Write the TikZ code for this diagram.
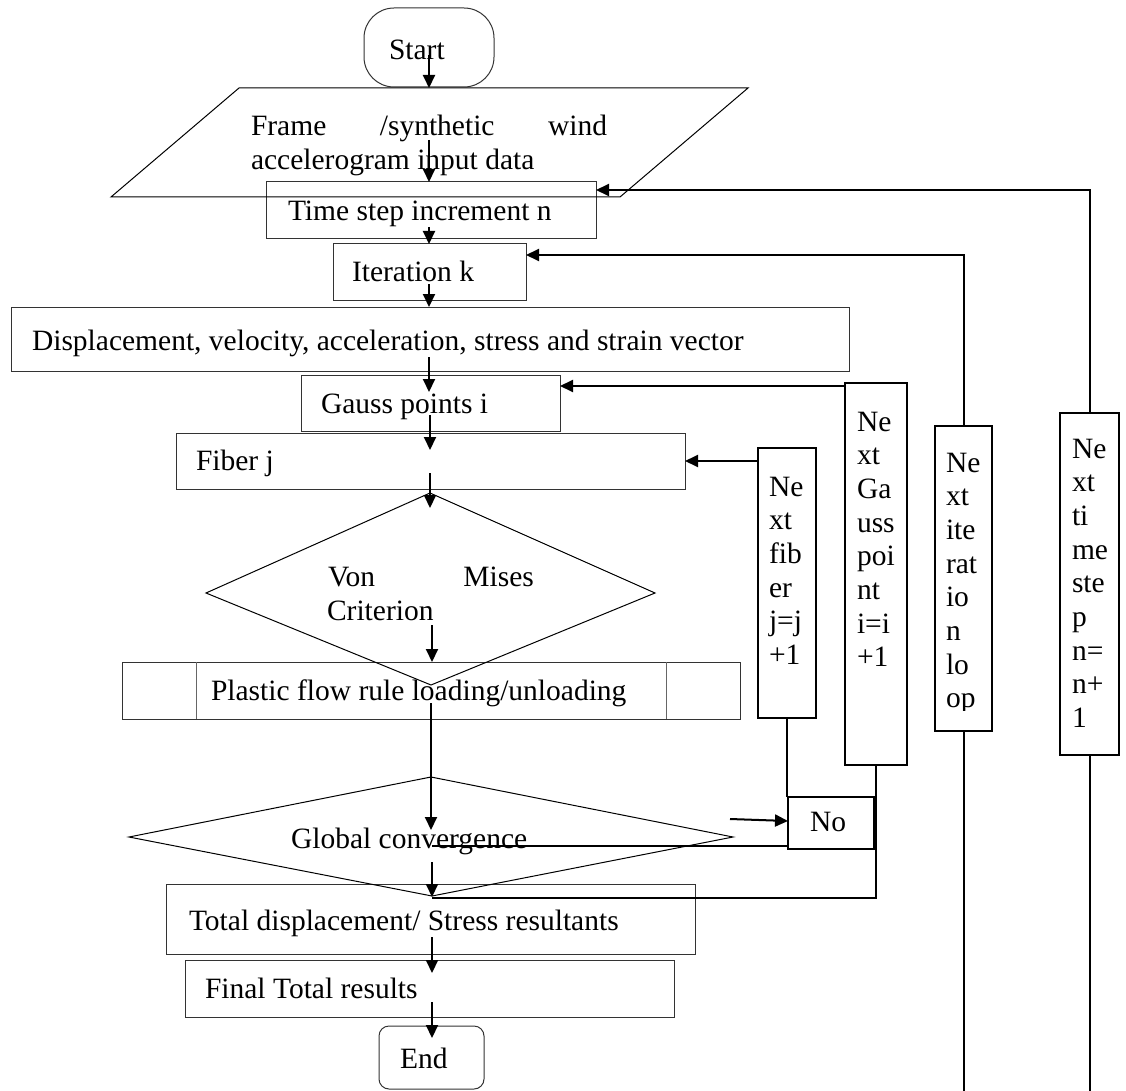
\documentclass[tikz,border=0pt]{standalone}
\usepackage{fontspec}
\setmainfont{Liberation Serif}
\usetikzlibrary{arrows.meta}
\newcommand\fs{\fontsize{29.5}{33.7}\selectfont}
\newcommand\mkbox[6]{\node[#6, minimum width={(#4)-(#2)}, minimum height={(#5)-(#3)}] (#1) at ({((#2)+(#4))/2},{((#3)+(#5))/2}) {};}
\begin{document}
\begin{tikzpicture}[x=1pt,y=-1pt,
  lbox/.style={draw=black!80, line width=1pt, inner sep=0pt, outer sep=0pt},
  rbox/.style={draw=black, line width=2pt, inner sep=0pt, outer sep=0pt},
  shp/.style={draw=black, line width=1pt},
  conn/.style={draw=black, line width=2pt},
  arr/.style={conn, -{Triangle[length=13pt,width=12pt]}},
  txt/.style={anchor=base west, inner sep=0pt, outer sep=0pt, font=\fs},
]
\fill[white] (0,0) rectangle (1126,1091);
\useasboundingbox (0,0) rectangle (1126,1091);

% ---------- boxes ----------
\mkbox{start}{364}{8}{494}{87}{lbox, rounded corners=30pt}
\mkbox{time}{266}{182}{596}{239}{lbox}
\mkbox{iter}{333}{244}{526}{300}{lbox}
\mkbox{disp}{11}{307}{849}{371}{lbox}
\mkbox{gauss}{301}{375}{560}{431}{lbox}
\mkbox{fiber}{176}{433}{685}{489}{lbox}
\mkbox{plastic}{122}{662}{740}{719}{lbox}
\mkbox{total}{166}{884}{695}{954}{lbox}
\mkbox{final}{185}{960}{674}{1017}{lbox}
\mkbox{endb}{379}{1026}{484}{1089}{lbox, rounded corners=10pt}
\mkbox{nobox}{788}{797}{874}{849}{rbox}
\mkbox{nfib}{758}{448}{816}{718}{rbox}
\mkbox{ngauss}{845}{383}{907}{765}{rbox}
\mkbox{niter}{935}{426}{992}{731}{rbox}
\mkbox{ntime}{1060}{413}{1119}{755}{rbox}

% plastic box inner lines
\draw[draw=black!60, line width=1pt] (plastic.north -| 196,0) -- (plastic.south -| 196,0);
\draw[draw=black!60, line width=1pt] (plastic.north -| 666,0) -- (plastic.south -| 666,0);

% parallelogram
\coordinate (p1) at (239,88); \coordinate (p2) at (748,88);
\coordinate (p3) at (620,197); \coordinate (p4) at (111,197);
\draw[shp] (p1) -- (p2) -- (p3) -- (p4) -- cycle;

% diamonds
\coordinate (vt) at (430,493); \coordinate (vr) at (655,593);
\coordinate (vb) at (431,685); \coordinate (vl) at (206,593);
\draw[shp] (vt) -- (vr) -- (vb) -- (vl) -- cycle;
\coordinate (gt) at (431,777); \coordinate (gr) at (733,837);
\coordinate (gb) at (432,896); \coordinate (gl) at (129,837);
\draw[shp] (gt) -- (gr) -- (gb) -- (gl) -- cycle;

% ---------- texts ----------
\node[txt] (tstart) at (389,60) {Start};
\node[txt] (tframe) at (251,136) {\hbox to 356pt{Frame\hfill/synthetic\hfill wind}};
\node[txt] (tacc) at (251,170) {accelerogram input data};
\node[txt] (ttime) at (288,221) {Time step increment n};
\node[txt] (titer) at (352,281) {Iteration k};
\node[txt] (tdisp) at (32,350) {Displacement, velocity, acceleration, stress and strain vector};
\node[txt] (tgauss) at (321,413) {Gauss points i};
\node[txt] (tfiber) at (196,470) {Fiber j};
\node[txt] (tvon) at (328,586) {\hbox to 206pt{Von\hfill Mises}};
\node[txt] (tcrit) at (327,620) {Criterion};
\node[txt] (tplastic) at (211,700) {Plastic flow rule loading/unloading};
\node[txt] (tglobal) at (291,848) {Global convergence};
\node[txt] (tno) at (810,831) {No};
\node[txt] (ttotal) at (189,930) {Total displacement/ Stress resultants};
\node[txt] (tfinal) at (205,998) {Final Total results};
\node[txt] (tend) at (400,1068) {End};

\foreach \t [count=\i from 0] in {Ne,xt,fib,er,j=j,+1}
  \node[txt] (tf\i) at (769,{496+\i*33.7}) {\t};
\foreach \t [count=\i from 0] in {Ne,xt,Ga,uss,poi,nt,i=i,+1}
  \node[txt] (tg\i) at (857,{431+\i*33.7}) {\t};
\begin{scope}
\clip (930,420) rectangle (998,710);
\foreach \t [count=\i from 0] in {Ne,xt,ite,rat,io,n,lo,op}
  \node[txt] (ti\i) at (946,{472+\i*33.7}) {\t};
\end{scope}
\foreach \t [count=\i from 0] in {Ne,xt,ti,me,ste,p,n=,n+,1}
  \node[txt] (tt\i) at (1072,{458+\i*33.7}) {\t};

% ---------- main flow arrows ----------
\coordinate (a1) at (429,55);   \draw[arr] (a1) -- (a1 |- p1);
\coordinate (a2) at (429,140);  \draw[arr] (a2) -- (a2 |- time.north);
\coordinate (a3) at (429,227);  \draw[arr] (a3) -- (a3 |- iter.north);
\coordinate (a4) at (429,284);  \draw[arr] (a4) -- (a4 |- disp.north);
\coordinate (a5) at (429,357);  \coordinate (b5) at (429,392); \draw[arr] (a5) -- (b5);
\coordinate (a6) at (430,415);  \coordinate (b6) at (430,450); \draw[arr] (a6) -- (b6);
\coordinate (a7) at (430,473);  \coordinate (b7) at (430,508); \draw[arr] (a7) -- (b7);
\coordinate (a8) at (432,625);  \draw[arr] (a8) -- (a8 |- plastic.north);
\coordinate (a9) at (431,703);  \coordinate (b9) at (431,830); \draw[arr] (a9) -- (b9);
\coordinate (a10) at (432,862); \coordinate (b10) at (432,897); \draw[arr] (a10) -- (b10);
\coordinate (a11) at (432,937); \coordinate (b11) at (432,973); \draw[arr] (a11) -- (b11);
\coordinate (a12) at (432,1002); \coordinate (b12) at (432,1038); \draw[arr] (a12) -- (b12);

% ---------- loops ----------
\coordinate (bot) at (0,1091);
% time step loop
\coordinate (rt) at (ntime.north |- 0,190);
\draw[arr] (ntime.north) -- (rt) -- (rt -| time.east);
\draw[conn] (ntime.south) -- (ntime.south |- bot);
% iteration loop
\coordinate (ri) at (niter.north |- 0,255);
\draw[arr] (niter.north) -- (ri) -- (ri -| iter.east);
\draw[conn] (niter.south) -- (niter.south |- bot);
% gauss loop
\coordinate (rg) at (845,386);
\draw[arr] (rg) -- (rg -| gauss.east);
\coordinate (gbl) at (432,898);
\draw[conn] (ngauss.south) |- (gbl);
% fiber loop
\coordinate (rf) at (nfib.west |- 0,461);
\draw[arr] (rf) -- (rf -| fiber.east);
\draw[conn] (nfib.south) -- (nfib.south |- nobox.north);
% No
\coordinate (nin) at (730,819);
\draw[arr] (nin) -- (nobox.west |- 0,821);
\coordinate (nl) at (nobox.west |- 0,846);
\coordinate (gc) at (432,846);
\draw[conn] (nl) -- (gc);
\end{tikzpicture}
\end{document}
